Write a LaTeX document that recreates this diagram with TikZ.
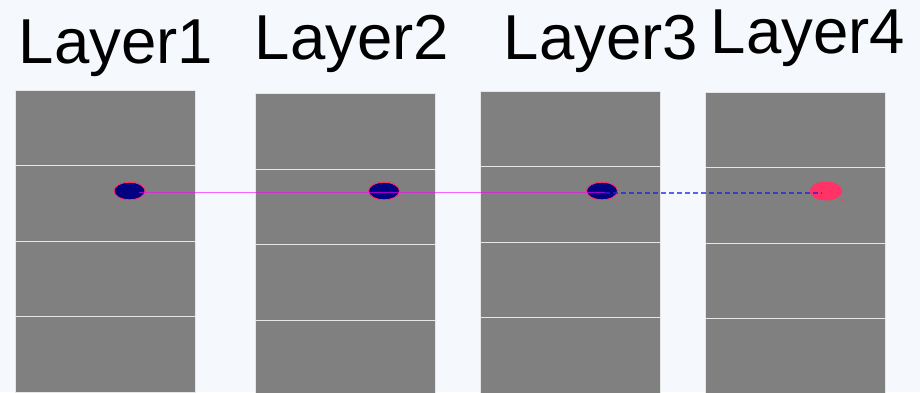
\documentclass[tikz,border=0pt]{standalone}
\usepackage{fontspec}
\setmainfont{Liberation Sans}
\usetikzlibrary{shapes.geometric,calc}
\definecolor{bgc}{HTML}{F5F8FD}
\definecolor{cellgray}{HTML}{808080}
\definecolor{celledge}{HTML}{E6E6E6}
\definecolor{navyc}{HTML}{000080}
\definecolor{pinkc}{HTML}{FF3366}
\definecolor{magc}{HTML}{FF00FF}
\definecolor{bluec}{HTML}{2020E0}
\tikzset{
  cellbox/.style={draw=celledge, line width=0.9pt, fill=cellgray, minimum width=180pt, minimum height=75.5pt, inner sep=0pt, anchor=north west},
  layerlabel/.style={anchor=base, inner sep=0pt, font=\fontsize{63.5}{70}\selectfont},
  visited/.style={ellipse, draw=pinkc, line width=0.9pt, fill=navyc, minimum width=31pt, minimum height=17.5pt, inner sep=0pt},
  target/.style={ellipse, fill=pinkc, minimum width=32.5pt, minimum height=19pt, inner sep=0pt},
  pathline/.style={magc, opacity=0.6, line width=1.5pt},
  nextline/.style={bluec, opacity=0.7, line width=1.6pt, dash pattern=on 5pt off 3pt},
  handle/.style={fill=pinkc, opacity=0.8}
}
\begin{document}
\begin{tikzpicture}[x=1pt, y=-1pt]
\fill[bgc] (0,0) rectangle (920,392);
\useasboundingbox (0,0) rectangle (920,392);
% layer columns
\foreach \i/\x/\t in {1/14.5/89.5, 2/255/93.3, 3/480.3/90.5, 4/705.3/91.5}{
  \foreach \j in {0,1,2,3}{
    \node[cellbox] (c\i\j) at (\x, \t + 75.5*\j) {};
  }
}
% labels
\node[layerlabel] (lab1) at (116,63.3) {Layer1};
\node[layerlabel] (lab2) at (352,59.3) {Layer2};
\node[layerlabel] (lab3) at (601,59.3) {Layer3};
\node[layerlabel] (lab4) at (808,53.3) {Layer4};
% points
\node[visited] (e1) at (129.5,191) {};
\node[visited] (e2) at (384,191) {};
\node[visited] (e3) at (602,191) {};
\node[target] (e4) at (826,191) {};
% connectors
\draw[pathline] ([xshift=9.5pt,yshift=-1.7pt]e1.center) -- ([xshift=3pt,yshift=-1.7pt]e3.center);
\draw[nextline] ([xshift=3pt,yshift=-1.7pt]e3.center) -- ([xshift=-4pt,yshift=-1.7pt]e4.center);
% selection handles
\foreach \e in {e1,e2,e3,e4}{
  \fill[handle] (\e.north -| \e.west) circle (0.8pt);
  \fill[handle] (\e.south -| \e.east) circle (0.8pt);
}
\end{tikzpicture}
\end{document}
